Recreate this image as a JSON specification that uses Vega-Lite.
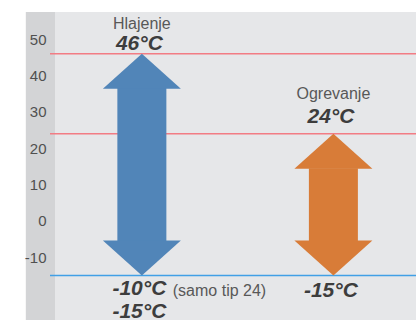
{
  "$schema": "https://vega.github.io/schema/vega-lite/v6.json",
  "width": 366,
  "height": 308,
  "autosize": {"type": "none"},
  "padding": {"left": 50, "top": 12, "right": 0, "bottom": 0},
  "background": "#ffffff",
  "config": {"view": {"fill": "#e6e7e9", "stroke": null}, "font": "Liberation Sans"},
  "datasets": {
    "band": [{"area": "axis", "from": -8.2, "to": 0}],
    "limits": [
      {"limit": "Hlajenje max", "temp": 46, "kind": "max"},
      {"limit": "Ogrevanje max", "temp": 24, "kind": "max"},
      {"limit": "min", "temp": -15, "kind": "min"}
    ],
    "arrows": [
      {"mode": "Hlajenje", "pos": 24.4, "max": 46, "min": -15, "shaftTop": 37, "shaftBottom": -6},
      {"mode": "Ogrevanje", "pos": 78.2, "max": 24, "min": -15, "shaftTop": 14.5, "shaftBottom": -6}
    ],
    "names": [
      {"label": "Hlajenje", "pos": 24.4, "t": 52.7},
      {"label": "Ogrevanje", "pos": 78.2, "t": 33.6},
      {"label": "(samo tip 24)", "pos": 46.2, "t": -20.6}
    ],
    "values": [
      {"label": "46°C", "pos": 23.7, "t": 47.0},
      {"label": "24°C", "pos": 77.5, "t": 27.0},
      {"label": "-10°C", "pos": 23.7, "t": -20.3},
      {"label": "-15°C", "pos": 23.7, "t": -26.6},
      {"label": "-15°C", "pos": 77.5, "t": -20.9}
    ]
  },
  "layer": [
    {
      "data": {"name": "band"},
      "mark": {"type": "rect", "color": "#d3d4d6", "opacity": 1},
      "encoding": {
        "x": {"field": "from", "type": "quantitative", "scale": {"domain": [0, 100], "nice": false, "zero": false}, "axis": null},
        "x2": {"field": "to"}
      }
    },
    {
      "data": {"name": "limits"},
      "transform": [{"filter": "datum.kind == 'max'"}],
      "mark": {"type": "rule", "strokeWidth": 1.5, "color": "#f27c84"},
      "encoding": {
        "y": {
          "field": "temp", "type": "quantitative",
          "scale": {"domain": [-27.24, 57.48], "nice": false, "zero": false},
          "axis": {
            "orient": "left", "domain": false, "ticks": false, "tickSize": 0, "labelPadding": 4,
            "grid": false, "title": null, "values": [-10, 0, 10, 20, 30, 40, 50], "zindex": 1,
            "labelExpr": "'' + datum.value",
            "labelFontSize": 15, "labelColor": "#505050", "labelFont": "Liberation Sans"
          }
        }
      }
    },
    {
      "data": {"name": "limits"},
      "transform": [{"filter": "datum.kind == 'min'"}],
      "mark": {"type": "rule", "strokeWidth": 1.5, "color": "#41a0e6"},
      "encoding": {
        "y": {"field": "temp", "type": "quantitative"}
      }
    },
    {
      "data": {"name": "arrows"},
      "mark": {"type": "bar", "width": 49},
      "encoding": {
        "x": {"field": "pos", "type": "quantitative"},
        "y": {"field": "shaftBottom", "type": "quantitative"},
        "y2": {"field": "shaftTop"},
        "color": {"field": "mode", "type": "nominal", "scale": {"domain": ["Hlajenje", "Ogrevanje"], "range": ["#5185b8", "#d87c38"]}, "legend": null}
      }
    },
    {
      "data": {"name": "arrows"},
      "mark": {"type": "point", "shape": "M0,0L1,0.9L-1,0.9Z", "filled": true, "opacity": 1, "size": 6084, "strokeWidth": 0},
      "encoding": {
        "x": {"field": "pos", "type": "quantitative"},
        "y": {"field": "max", "type": "quantitative"},
        "color": {"field": "mode", "type": "nominal", "legend": null}
      }
    },
    {
      "data": {"name": "arrows"},
      "mark": {"type": "point", "shape": "M0,0L1,-0.9L-1,-0.9Z", "filled": true, "opacity": 1, "size": 6084, "strokeWidth": 0},
      "encoding": {
        "x": {"field": "pos", "type": "quantitative"},
        "y": {"field": "min", "type": "quantitative"},
        "color": {"field": "mode", "type": "nominal", "legend": null}
      }
    },
    {
      "data": {"name": "names"},
      "mark": {"type": "text", "fontSize": 16, "color": "#585858", "align": "center", "baseline": "alphabetic", "font": "Liberation Sans"},
      "encoding": {
        "x": {"field": "pos", "type": "quantitative"},
        "y": {"field": "t", "type": "quantitative"},
        "text": {"field": "label"}
      }
    },
    {
      "data": {"name": "values"},
      "mark": {"type": "text", "fontSize": 21, "fontWeight": "bold", "fontStyle": "italic", "color": "#3d3d3d", "align": "center", "baseline": "alphabetic", "font": "Liberation Sans"},
      "encoding": {
        "x": {"field": "pos", "type": "quantitative"},
        "y": {"field": "t", "type": "quantitative"},
        "text": {"field": "label"}
      }
    }
  ]
}
